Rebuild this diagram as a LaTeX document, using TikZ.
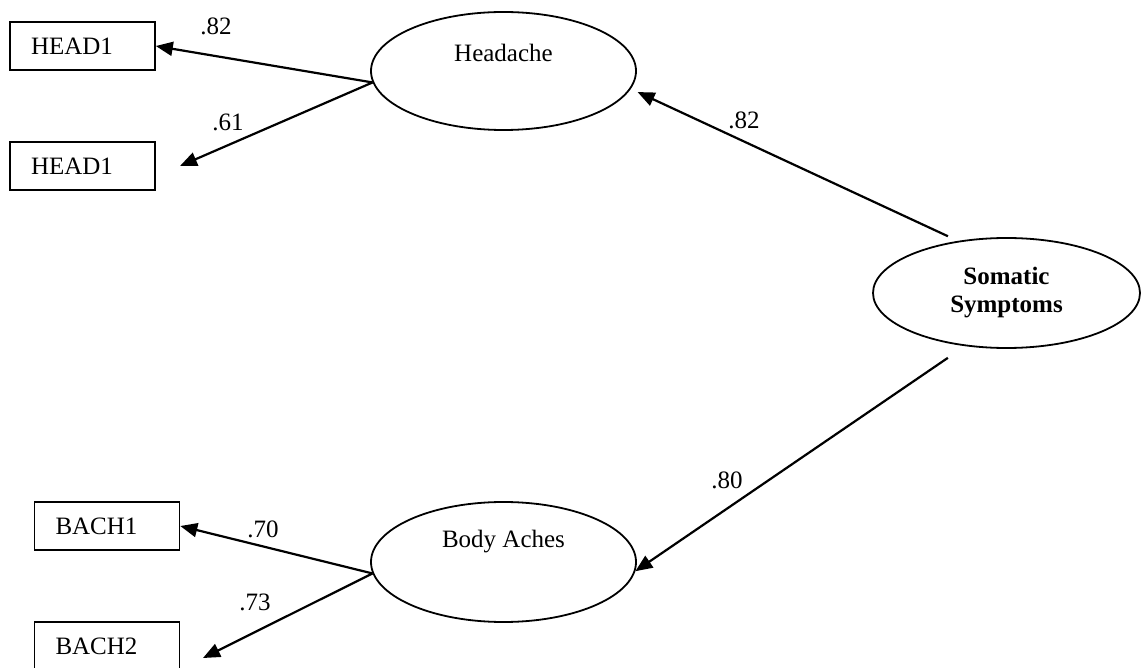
\documentclass[tikz,border=0pt]{standalone}
\usepackage{fontspec}
\setmainfont{Liberation Serif}
\usetikzlibrary{arrows.meta,shapes.geometric}
\begin{document}
\begin{tikzpicture}[x=1pt,y=-1pt,
  every node/.style={font=\fontsize{25}{29}\selectfont},
  obsbox/.style={draw, line width=1.6pt, minimum height=48pt, text width=103pt,
                 inner xsep=21pt, inner ysep=0pt, align=left},
  latent/.style={draw, ellipse, line width=1.8pt, inner sep=0pt},
  loading/.style={line width=2.2pt, -{Triangle[length=17pt,width=14pt]}},
  coef/.style={inner sep=0pt}]
\clip (0,0) rectangle (1144,668);
\fill[white] (0,0) rectangle (1144,668);

% observed indicators
\node[obsbox] (HA) at (82.5,46)  {HEAD1};
\node[obsbox] (HB) at (82.5,166) {HEAD1};
\node[obsbox] (B1) at (107,526)  {BACH1};
\node[obsbox] (B2) at (107,646)  {BACH2};

% latent factors
\node[latent, minimum width=265pt, minimum height=118pt,
      label={[yshift=18pt]center:Headache}] (H) at (503.5,71) {};
\node[latent, minimum width=265pt, minimum height=120pt,
      label={[yshift=20pt]center:Body Aches}] (B) at (503.5,562) {};
\node[latent, minimum width=267pt, minimum height=110pt, align=center,
      font=\bfseries\fontsize{25}{28}\selectfont] (S) at (1006.5,293) {Somatic\\Symptoms};

% free arrow ends
\coordinate (hbtip) at (180,166);
\coordinate (b2tip) at (203,658);

% loadings
\draw[loading] (H.185) -- (HA.east);
\draw[loading] (H.185) -- (hbtip);
\draw[loading] (B.185) -- (B1.east);
\draw[loading] (B.185) -- (b2tip);
\draw[loading, shorten <=11pt, shorten >=7.5pt] (S.133) -- (H.-8.5);
\draw[loading, shorten <=20.7pt] (S.232) -- (B.-4);

% coefficients
\node[coef] (c1) at (216,26)  {.82};
\node[coef] (c2) at (228,122) {.61};
\node[coef] (c3) at (744,120) {.82};
\node[coef] (c4) at (727,480) {.80};
\node[coef] (c5) at (263,529) {.70};
\node[coef] (c6) at (255,602) {.73};
\end{tikzpicture}
\end{document}
